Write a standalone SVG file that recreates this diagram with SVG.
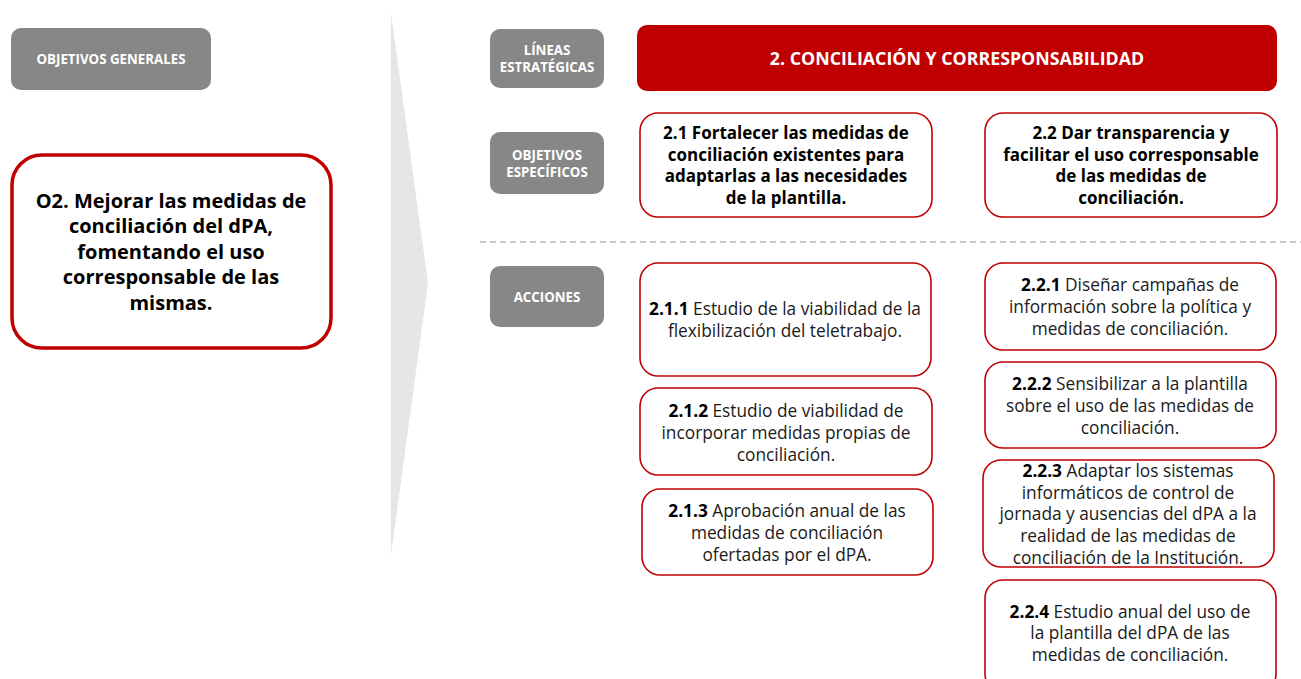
<svg xmlns="http://www.w3.org/2000/svg" width="1301" height="679" viewBox="0 0 1301 679">
<style>
text{font-family:"Open Sans","Noto Sans","Liberation Sans",sans-serif;text-anchor:middle}
.gbox{fill:#878787}
.glab{fill:#ffffff;font-weight:bold;font-size:13.3px}
.rbox{fill:#ffffff;stroke:#c00000;stroke-width:1.6}
.bt{font-weight:bold;font-size:17px;fill:#000}
.rt{font-size:17.3px;fill:#1a1a1a}
.b{font-weight:bold;fill:#000}
</style>
<rect width="1301" height="679" fill="#ffffff"/>
<polygon id="wedge" points="391,13 428,283 391,555" fill="#e6e6e6"/>
<g id="connectors">
<line x1="480" y1="242" x2="1301" y2="242" stroke="#b4b9c6" stroke-width="1.6" stroke-dasharray="6,4"/>
</g>
<g id="obj-generales">
<rect class="gbox" x="11" y="28" width="200" height="62" rx="10"/>
<text class="glab" x="111" y="64">OBJETIVOS GENERALES</text>
</g>
<g id="o2">
<rect x="12" y="155" width="319" height="193" rx="30" fill="#ffffff" stroke="#c00000" stroke-width="3.5"/>
<text class="b" font-size="20" x="171"><tspan x="171" y="208">O2. Mejorar las medidas de</tspan><tspan x="171" y="233">conciliación del dPA,</tspan><tspan x="171" y="259">fomentando el uso</tspan><tspan x="171" y="284">corresponsable de las</tspan><tspan x="171" y="310">mismas.</tspan></text>
</g>
<g id="lineas">
<rect class="gbox" x="490" y="29" width="114" height="59" rx="10"/>
<text class="glab"><tspan x="547" y="55">LÍNEAS</tspan><tspan x="547" y="72">ESTRATÉGICAS</tspan></text>
</g>
<g id="especificos">
<rect class="gbox" x="490" y="132" width="114" height="62" rx="10"/>
<text class="glab"><tspan x="547" y="160">OBJETIVOS</tspan><tspan x="547" y="177">ESPECÍFICOS</tspan></text>
</g>
<g id="acciones">
<rect class="gbox" x="490" y="266" width="114" height="61" rx="10"/>
<text class="glab" x="547" y="302">ACCIONES</text>
</g>
<g id="linea2">
<rect x="637" y="25" width="640" height="66" rx="10" fill="#c00000"/>
<text x="957" y="65" font-weight="bold" font-size="17.8" fill="#ffffff">2. CONCILIACIÓN Y CORRESPONSABILIDAD</text>
</g>
<g id="oe21">
<rect class="rbox" x="640" y="113" width="292" height="104" rx="18"/>
<text class="bt"><tspan x="786" y="139">2.1 Fortalecer las medidas de</tspan><tspan x="786" y="160.5">conciliación existentes para</tspan><tspan x="786" y="182">adaptarlas a las necesidades</tspan><tspan x="786" y="203.5">de la plantilla.</tspan></text>
</g>
<g id="oe22">
<rect class="rbox" x="985" y="113" width="292" height="104" rx="18"/>
<text class="bt"><tspan x="1131" y="139">2.2 Dar transparencia y</tspan><tspan x="1131" y="160.5">facilitar el uso corresponsable</tspan><tspan x="1131" y="182">de las medidas de</tspan><tspan x="1131" y="203.5">conciliación.</tspan></text>
</g>
<g id="a211">
<rect class="rbox" x="640" y="263" width="291" height="113" rx="18"/>
<text class="rt"><tspan x="785" y="315"><tspan class="b">2.1.1</tspan> Estudio de la viabilidad de la</tspan><tspan x="785" y="337">flexibilización del teletrabajo.</tspan></text>
</g>
<g id="a212">
<rect class="rbox" x="640" y="388" width="292" height="87" rx="18"/>
<text class="rt"><tspan x="786" y="417"><tspan class="b">2.1.2</tspan> Estudio de viabilidad de</tspan><tspan x="786" y="439">incorporar medidas propias de</tspan><tspan x="786" y="461">conciliación.</tspan></text>
</g>
<g id="a213">
<rect class="rbox" x="642" y="489" width="291" height="86" rx="18"/>
<text class="rt"><tspan x="787" y="517"><tspan class="b">2.1.3</tspan> Aprobación anual de las</tspan><tspan x="787" y="539">medidas de conciliación</tspan><tspan x="787" y="561">ofertadas por el dPA.</tspan></text>
</g>
<g id="a221">
<rect class="rbox" x="985" y="263" width="291" height="87" rx="18"/>
<text class="rt"><tspan x="1130" y="291"><tspan class="b">2.2.1</tspan> Diseñar campañas de</tspan><tspan x="1130" y="313">información sobre la política y</tspan><tspan x="1130" y="335">medidas de conciliación.</tspan></text>
</g>
<g id="a222">
<rect class="rbox" x="985" y="362" width="291" height="86" rx="18"/>
<text class="rt"><tspan x="1130" y="390"><tspan class="b">2.2.2</tspan> Sensibilizar a la plantilla</tspan><tspan x="1130" y="412">sobre el uso de las medidas de</tspan><tspan x="1130" y="434">conciliación.</tspan></text>
</g>
<g id="a223">
<rect class="rbox" x="983" y="460" width="291" height="107" rx="18"/>
<text class="rt"><tspan x="1128" y="477"><tspan class="b">2.2.3</tspan> Adaptar los sistemas</tspan><tspan x="1128" y="499">informáticos de control de</tspan><tspan x="1128" y="520">jornada y ausencias del dPA a la</tspan><tspan x="1128" y="542">realidad de las medidas de</tspan><tspan x="1128" y="564">conciliación de la Institución.</tspan></text>
</g>
<g id="a224">
<rect class="rbox" x="985" y="580" width="291" height="112" rx="18"/>
<text class="rt"><tspan x="1130" y="618"><tspan class="b">2.2.4</tspan> Estudio anual del uso de</tspan><tspan x="1130" y="639">la plantilla del dPA de las</tspan><tspan x="1130" y="661">medidas de conciliación.</tspan></text>
</g>
</svg>
